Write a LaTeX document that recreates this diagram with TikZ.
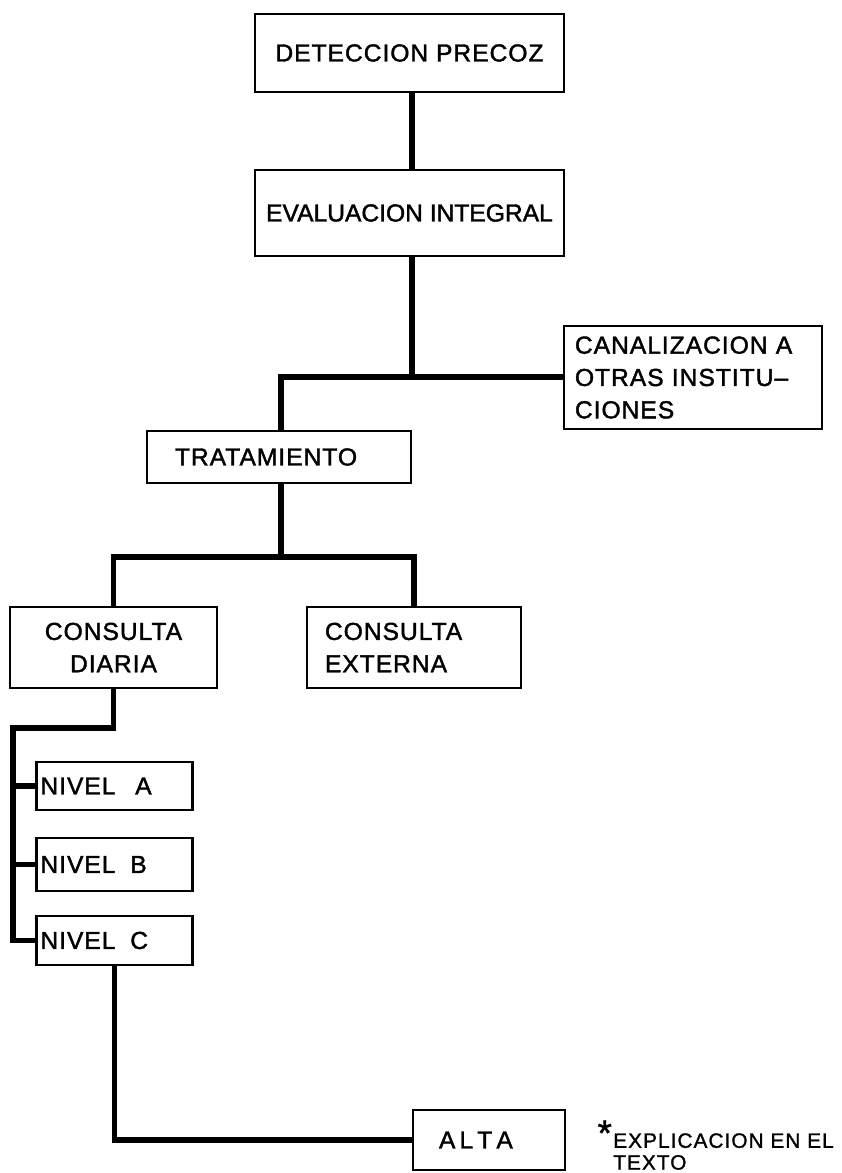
\documentclass[tikz,border=0pt]{standalone}
\usepackage{fontspec}
\setmainfont{Liberation Sans}
\newfontfamily\rotulo[LetterSpace=4,FakeBold=1.6]{Liberation Sans}
\newfontfamily\rotulojunto[FakeBold=1.6]{Liberation Sans}
\newfontfamily\notafont[LetterSpace=5,FakeBold=1.2]{Liberation Sans}
\begin{document}
\begin{tikzpicture}[x=0.025cm,y=-0.025cm,
  caja/.style={draw,line width=1.5pt,inner sep=0pt,font=\rotulo\fontsize{17.5}{23}\selectfont},
  enlace/.style={line width=4pt}]
\useasboundingbox (0,0) rectangle (842,1173);
% cajas
\node[caja,minimum width=7.725cm,minimum height=1.95cm] (det) at (409.5,53) {DETECCION PRECOZ};
\node[caja,minimum width=7.725cm,minimum height=2.15cm,font=\rotulojunto\fontsize{17.5}{23}\selectfont] (eva) at (409.5,213) {EVALUACION INTEGRAL};
\node[caja,text width=5.9cm,inner xsep=0.275cm,minimum height=2.575cm,align=left] (can) at (693,377.5)
  {CANALIZACION A\\OTRAS INSTITU–\\CIONES};
\node[caja,text width=5.2cm,inner xsep=0.7cm,minimum height=1.3cm,align=left] (trat) at (279,457) {TRATAMIENTO};
\node[caja,minimum width=5.175cm,minimum height=2.025cm,align=center] (cd) at (113.5,647.5) {CONSULTA\\DIARIA};
\node[caja,text width=4.45cm,inner xsep=0.45cm,minimum height=2.025cm,align=left] (ce) at (414,647.5) {CONSULTA\\EXTERNA};
\node[caja,text width=3.7cm,inner xsep=0.1cm,minimum height=1.2cm,align=left] (na) at (114.5,786) {NIVEL\hspace{0.8em}A};
\node[caja,text width=3.7cm,inner xsep=0.1cm,minimum height=1.325cm,align=left] (nb) at (114.5,864.5) {NIVEL\hspace{0.6em}B};
\node[caja,text width=3.7cm,inner xsep=0.1cm,minimum height=1.225cm,align=left] (nc) at (114.5,940.5) {NIVEL\hspace{0.6em}C};
\node[caja,text width=2.5cm,inner xsep=0.65cm,minimum height=1.5cm,align=left] (alta) at (489,1140) {A\,L\,T\,A};
\node[anchor=north west,align=left,inner sep=0pt,font=\notafont\fontsize{14.8}{15.5}\selectfont] (nota) at (613,1133)
  {\llap{\smash{\raisebox{0.2ex}{\fontsize{26}{26}\selectfont*}}\hspace{1pt}}EXPLICACION EN EL\\TEXTO};
% uniones
\coordinate (j1) at (412,377);
\coordinate (j2) at (281,557);
\coordinate (bus) at (13,728);
\draw[enlace] (det.south -| j1) -- (eva.north -| j1);
\draw[enlace] (eva.south -| j1) -- (j1) -- (j1 -| can.west);
\draw[enlace] (j1) -| (trat.north -| j2);
\draw[enlace] (trat.south -| j2) -- (j2);
\draw[enlace] (cd.north) |- (j2) -| (ce.north);
\draw[enlace] (cd.south) |- (bus) -- (bus |- nc.west) -- (nc.west);
\draw[enlace] (bus |- na.west) -- (na.west);
\draw[enlace] (bus |- nb.west) -- (nb.west);
\draw[enlace] (nc.south) |- (alta.west);
\end{tikzpicture}
\end{document}
